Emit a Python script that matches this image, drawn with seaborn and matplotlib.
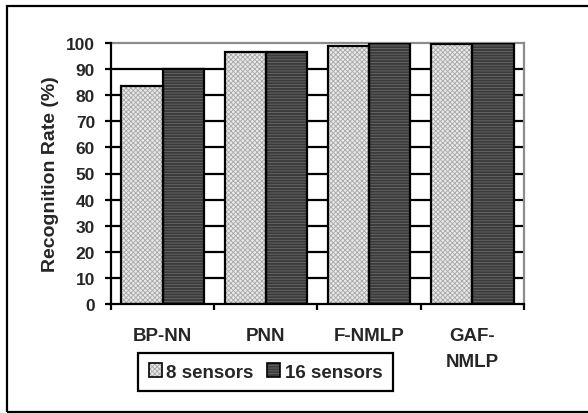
import matplotlib
matplotlib.use("Agg")
import matplotlib.pyplot as plt
from matplotlib.patches import Rectangle, Patch
from matplotlib.legend_handler import HandlerTuple
import seaborn as sns
import pandas as pd

# Recognition rates per classifier
methods = ["BP-NN", "PNN", "F-NMLP", "GAF-\nNMLP"]
series_names = ["8 sensors", "16 sensors"]
rate_8 = [83.6, 96.4, 98.9, 99.5]
rate_16 = [90.0, 96.6, 100.0, 100.0]
yticks = list(range(0, 101, 10))

df = pd.DataFrame({
    "method": methods * 2,
    "sensors": [series_names[0]] * 4 + [series_names[1]] * 4,
    "rate": rate_8 + rate_16,
})

sns.set_theme(style="white")
plt.rcParams["font.family"] = ["Liberation Sans", "DejaVu Sans"]
plt.rcParams["font.weight"] = "bold"
plt.rcParams["hatch.linewidth"] = 0.6

fig = plt.figure(figsize=(5.88, 4.14), dpi=100)
ax = fig.add_axes([111 / 588, 1 - 305 / 414, (524 - 111) / 588, (305 - 44) / 414])

styles = {
    series_names[0]: dict(face="#e8e8e8", hatch="xxxxxxx", hcolor="#a8a8a8"),
    series_names[1]: dict(face="#3a3a3a", hatch="------", hcolor="#6a6a6a"),
}

sns.barplot(data=df, x="method", y="rate", hue="sensors", order=methods,
            hue_order=series_names, width=0.8, dodge=True, ax=ax,
            legend=False, errorbar=None, saturation=1, zorder=3)

for name, cont in zip(series_names, ax.containers):
    st = styles[name]
    for p in cont.patches:
        p.set_facecolor(st["face"])
        p.set_edgecolor(st["hcolor"])
        p.set_hatch(st["hatch"])
        p.set_linewidth(0)
        ax.add_patch(Rectangle(p.get_xy(), p.get_width(), p.get_height(),
                               fill=False, edgecolor="black", linewidth=1.6,
                               zorder=4))

ax.set_ylim(0, 100)
ax.set_xlim(-0.5, len(methods) - 0.5)
ax.set_yticks(yticks)
for v in yticks[1:-1]:
    ax.axhline(v, color="black", linewidth=1.6, zorder=1)

ax.set_xticks(range(len(methods)))
ax.set_xticklabels(methods, fontsize=13.5, fontweight="bold", linespacing=1.7)
ax.set_xticks([i - 0.5 for i in range(len(methods) + 1)], minor=True)
ax.tick_params(axis="x", which="major", length=0, pad=16.5)
ax.tick_params(axis="x", which="minor", direction="out", length=4.5,
               width=1.6, color="black", bottom=True)
ax.tick_params(axis="y", direction="out", length=4.5, width=1.6,
               color="black", left=True, pad=7, labelsize=12.5)
for t in ax.get_yticklabels():
    t.set_fontweight("bold")

ax.set_xlabel("")
ax.set_ylabel("Recognition Rate (%)", fontsize=14, fontweight="bold", labelpad=5)

for side in ("left", "bottom"):
    ax.spines[side].set_color("black")
    ax.spines[side].set_linewidth(1.6)
    ax.spines[side].set_zorder(5)
for side in ("top", "right"):
    ax.spines[side].set_color("#8c8c8c")
    ax.spines[side].set_linewidth(1.6)

handles = []
for name in series_names:
    st = styles[name]
    fill = Patch(facecolor=st["face"], edgecolor=st["hcolor"], hatch=st["hatch"], linewidth=0)
    edge = Patch(fill=False, edgecolor="black", linewidth=1.2)
    handles.append((fill, edge))

leg = fig.legend(handles, series_names, loc="center",
                 bbox_to_anchor=(265.5 / 588, 1 - 373 / 414), ncol=2,
                 handler_map={tuple: HandlerTuple(ndivide=1)},
                 handlelength=0.7, handleheight=0.7, handletextpad=0.25,
                 columnspacing=0.7, borderpad=0.55, borderaxespad=0,
                 fancybox=False, framealpha=1,
                 prop={"weight": "bold", "size": 13.5})
leg.get_frame().set_edgecolor("black")
leg.get_frame().set_linewidth(1.6)

fig.patches.append(Rectangle((7 / 588, 1 / 414), 1.2, 1 - 8 / 414,
                             transform=fig.transFigure, fill=False,
                             edgecolor="black", linewidth=1.6))

fig.savefig("out.png", dpi=100)
